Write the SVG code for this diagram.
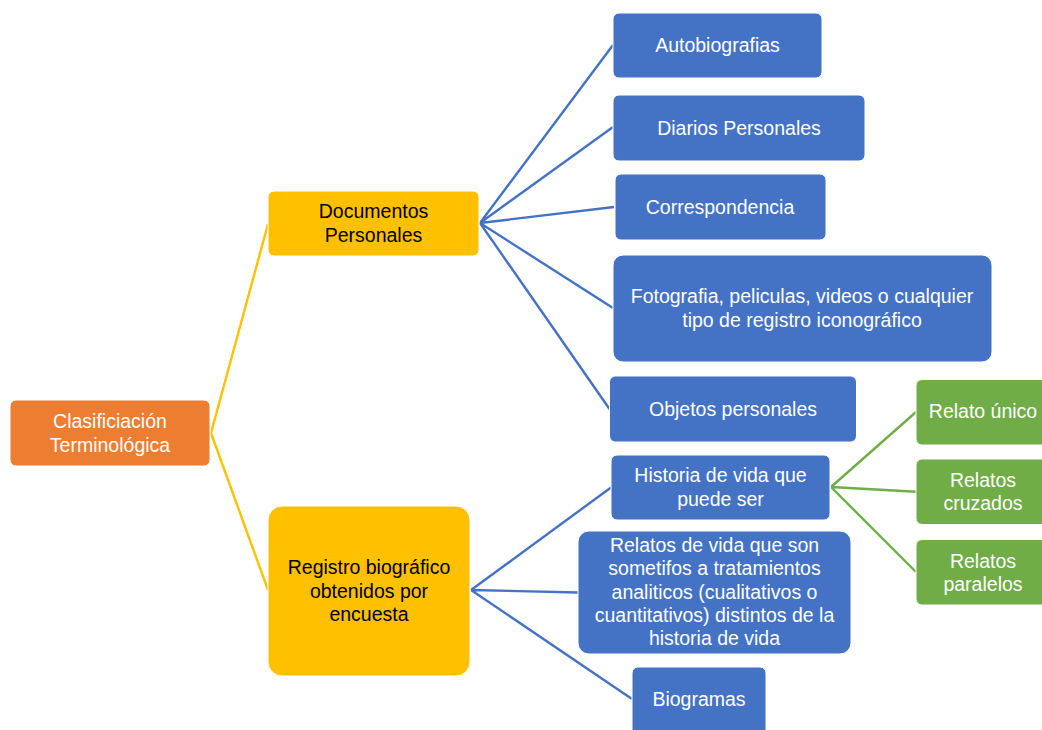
<svg xmlns="http://www.w3.org/2000/svg" width="1042" height="730" viewBox="0 0 1042 730">
<style>
text{font-family:"Liberation Sans",Arial,sans-serif;font-size:19.5px;text-anchor:middle;fill:#fff}
.org{fill:#ED7D31;stroke:#fff;stroke-width:1}
.yel{fill:#FFC000;stroke:#fff;stroke-width:1}
.blu{fill:#4472C4;stroke:#fff;stroke-width:1}
.grn{fill:#70AD47;stroke:#fff;stroke-width:1}
.dark{fill:#000}
.cy{stroke:#FFC000;stroke-width:2.4;fill:none}
.cb{stroke:#4472C4;stroke-width:2.4;fill:none}
.cg{stroke:#70AD47;stroke-width:2.4;fill:none}
</style>
<rect width="1042" height="730" fill="#fff"/>
<g id="connectors">
<path class="cy" d="M211 433 L268 224 M211 433 L268 590"/>
<path class="cb" d="M480 223 L613 45 M480 223 L613 127 M480 223 L614 207 M480 223 L613 308 M480 223 L609.5 409"/>
<path class="cb" d="M471 590 L611 487.5 M471 590 L578 592.5 M471 590 L632 699"/>
<path class="cg" d="M831 487 L916 412 M831 487 L916 491.7 M831 487 L916 572"/>
</g>
<g id="root"><rect class="org" x="10" y="400" width="200" height="66" rx="6"/>
<text x="110" y="428">Clasificiación</text><text x="110" y="451.5">Terminológica</text></g>
<g id="documentos"><rect class="yel" x="268" y="191" width="211" height="65" rx="6"/>
<text class="dark" x="373.5" y="217.5">Documentos</text><text class="dark" x="373.5" y="241.5">Personales</text></g>
<g id="registro"><rect class="yel" x="268" y="506" width="202" height="170" rx="14"/>
<text class="dark" x="369" y="574">Registro biográfico</text><text class="dark" x="369" y="597.5">obtenidos por</text><text class="dark" x="369" y="621">encuesta</text></g>
<g id="autobiografias"><rect class="blu" x="613" y="13" width="209" height="65" rx="6"/>
<text x="717.5" y="52">Autobiografias</text></g>
<g id="diarios"><rect class="blu" x="613" y="95" width="252" height="66" rx="6"/>
<text x="739" y="134.5">Diarios Personales</text></g>
<g id="correspondencia"><rect class="blu" x="615" y="174" width="211" height="66" rx="6"/>
<text x="720" y="213.5">Correspondencia</text></g>
<g id="fotografia"><rect class="blu" x="613" y="255" width="379" height="107" rx="10"/>
<text x="802" y="303">Fotografia, peliculas, videos o cualquier</text><text x="802" y="326.5">tipo de registro iconográfico</text></g>
<g id="objetos"><rect class="blu" x="609.5" y="376" width="247" height="66" rx="6"/>
<text x="733" y="415.5">Objetos personales</text></g>
<g id="historia"><rect class="blu" x="611" y="455" width="219" height="65" rx="6"/>
<text x="720.5" y="482">Historia de vida que</text><text x="720.5" y="505.5">puede ser</text></g>
<g id="relatos-vida"><rect class="blu" x="578" y="531" width="273" height="123" rx="11"/>
<text x="714.5" y="552">Relatos de vida que son</text><text x="714.5" y="575.3">sometifos a tratamientos</text><text x="714.5" y="598.6">analiticos (cualitativos o</text><text x="714.5" y="621.9">cuantitativos) distintos de la</text><text x="714.5" y="645.2">historia de vida</text></g>
<g id="biogramas"><rect class="blu" x="632" y="667" width="134" height="80" rx="6"/>
<text x="699" y="706">Biogramas</text></g>
<g id="relato-unico"><rect class="grn" x="916" y="379.5" width="134" height="65.5" rx="6"/>
<text x="983" y="418">Relato único</text></g>
<g id="relatos-cruzados"><rect class="grn" x="916" y="459" width="134" height="65.5" rx="6"/>
<text x="983" y="486.5">Relatos</text><text x="983" y="510">cruzados</text></g>
<g id="relatos-paralelos"><rect class="grn" x="916" y="539.5" width="134" height="65.5" rx="6"/>
<text x="983" y="567.5">Relatos</text><text x="983" y="591">paralelos</text></g>
</svg>
